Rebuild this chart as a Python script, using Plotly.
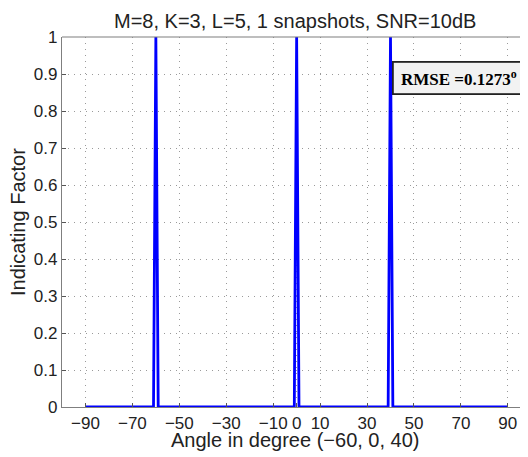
import numpy as np
import plotly.graph_objects as go

# Data
angles = list(range(-90, 91))
peak_angles = [-60, 0, 40]
peak_values = [1.0, 1.0, 1.0]
indicating = [0.0] * len(angles)
for a, v in zip(peak_angles, peak_values):
    indicating[angles.index(a)] = v

x_tick_vals = [-90, -70, -50, -30, -10, 0, 10, 30, 50, 70, 90]
x_tick_text = ["\u221290", "\u221270", "\u221250", "\u221230", "\u221210", "0", "10", "30", "50", "70", "90"]
y_tick_vals = [0, 0.1, 0.2, 0.3, 0.4, 0.5, 0.6, 0.7, 0.8, 0.9, 1]
y_tick_text = ["0", "0.1", "0.2", "0.3", "0.4", "0.5", "0.6", "0.7", "0.8", "0.9", "1"]

title_text = "M=8, K=3, L=5, 1 snapshots, SNR=10dB"
x_label = "Angle in degree (\u221260, 0, 40)"
y_label = "Indicating Factor"
rmse_text = "<b>RMSE =0.1273<sup>o</sup></b>"

font_family = "Liberation Sans, Arial, Helvetica, sans-serif"
text_color = "#222222"

fig = go.Figure()
fig.add_trace(go.Scatter(
    x=angles, y=indicating, mode="lines",
    line=dict(color="#0000ff", width=2.8),
    showlegend=False, cliponaxis=True,
))

axis_common = dict(
    showgrid=True, gridcolor="#9a9a9a", griddash="1px,5px", gridwidth=1,
    zeroline=False, showline=True, linecolor="#7f7f7f", linewidth=1.2,
    ticks="inside", ticklen=4, tickcolor="#555555", automargin=False,
    tickfont=dict(family=font_family, size=17, color=text_color),
)

# page has an 8px body margin, so the figure is sized to fit the window
fig.update_layout(
    width=520, height=449,
    margin=dict(l=54, r=0, t=29, b=50),
    paper_bgcolor="white", plot_bgcolor="white",
    xaxis=dict(range=[-100, 98.6], tickmode="array", tickvals=x_tick_vals, ticktext=x_tick_text,
               **axis_common),
    yaxis=dict(range=[0, 1], tickmode="array", tickvals=y_tick_vals, ticktext=y_tick_text,
               **axis_common),
)

# top border line
fig.add_shape(type="line", xref="paper", yref="paper", x0=0, x1=1, y0=1, y1=1,
              line=dict(color="#7f7f7f", width=1.2))

# title and axis labels
fig.add_annotation(xref="paper", yref="paper", x=0.5, y=1, yshift=29, text=title_text,
                   showarrow=False, xanchor="center", yanchor="top",
                   font=dict(family=font_family, size=20, color=text_color))
fig.add_annotation(xref="paper", yref="paper", x=0.5, y=0, yshift=-33, text=x_label,
                   showarrow=False, xanchor="center", yanchor="middle",
                   font=dict(family=font_family, size=20, color=text_color))
fig.add_annotation(xref="paper", yref="paper", x=0, y=0.5, xshift=-44, text=y_label,
                   showarrow=False, xanchor="center", yanchor="middle", textangle=-90,
                   font=dict(family=font_family, size=20, color=text_color))

fig.add_annotation(
    xref="x", yref="y", x=69, y=0.889, text=rmse_text, showarrow=False,
    font=dict(family="Liberation Serif, Times New Roman, serif", size=17, color="black"),
    bgcolor="#f2f2f2", bordercolor="#222222", borderwidth=1.8, borderpad=3,
    width=124, height=24, align="center",
    xanchor="center", yanchor="middle",
)

fig.write_html("out.html")
